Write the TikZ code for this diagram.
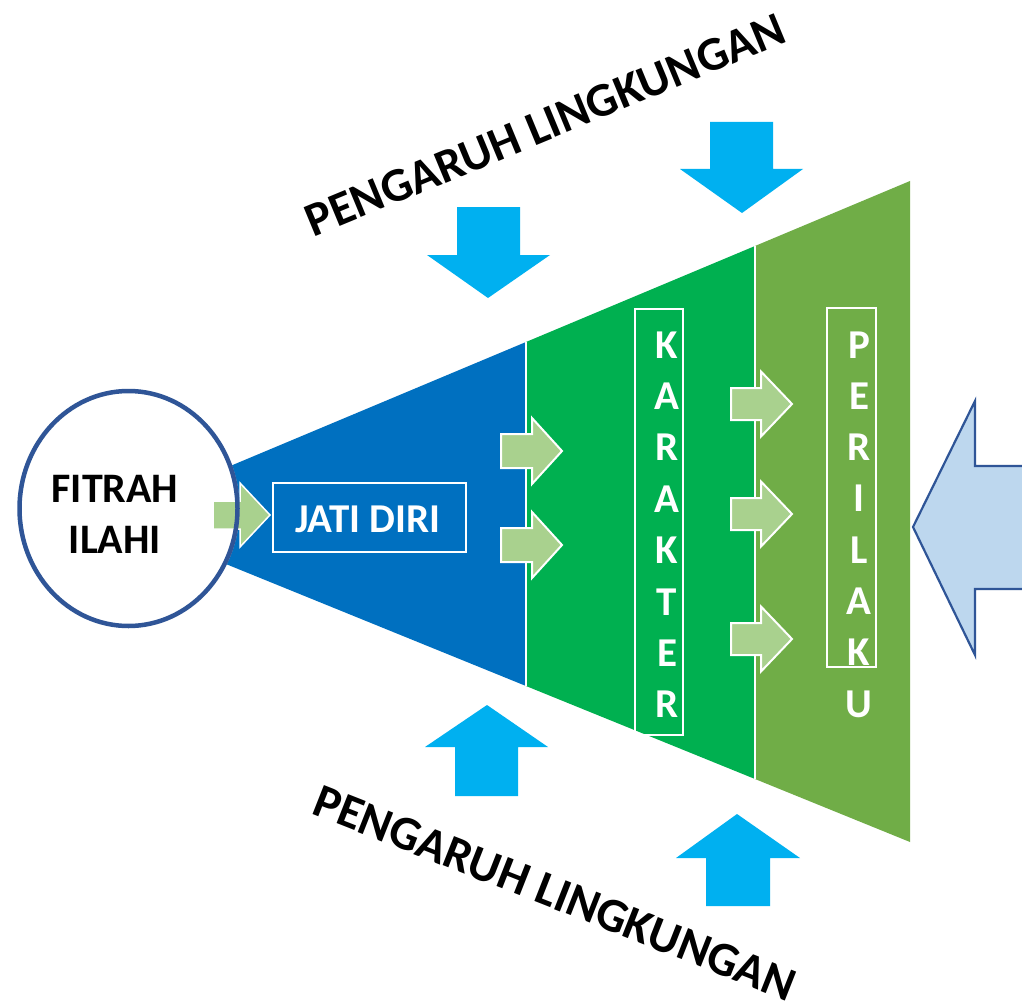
\documentclass[tikz,border=0pt]{standalone}
\usepackage{fontspec}
\setmainfont{Carlito}
\definecolor{fblue}{HTML}{0070C0}
\definecolor{fgreen}{HTML}{00B050}
\definecolor{flgreen}{HTML}{70AD47}
\definecolor{sgreen}{HTML}{A9D18E}
\definecolor{cyanar}{HTML}{00B0F0}
\definecolor{bigfill}{HTML}{BDD7EE}
\definecolor{darkblue}{HTML}{2F5597}
\begin{document}
\begin{tikzpicture}[x=1pt,y=-1pt,
  sarrow/.style={fill=sgreen, draw=white, line width=2pt, line join=miter},
  carrow/.style={fill=cyanar},
  lbl/.style={font=\fontsize{42}{51}\selectfont\bfseries, inner sep=0pt},
  lett/.style={text=white, font=\fontsize{41}{50}\selectfont\bfseries, anchor=base, inner sep=0pt},
  bigtxt/.style={font=\fontsize{48}{52}\selectfont\bfseries, inner sep=0pt},
  wbox/.style={draw=white, line width=1.6pt}]
\clip (0,0) rectangle (1022,1003);
\fill[white] (0,0) rectangle (1022,1003);
% funnel
\fill[fblue] (200,478.7) -- (526,342) -- (526,686) -- (200,553.5) -- cycle;
\fill[fgreen] (526,342) -- (755,246) -- (755,779) -- (526,686) -- cycle;
\fill[flgreen] (755,246) -- (910,181) -- (910,842) -- (755,779) -- cycle;
\draw[white, line width=2.5pt] (526,342) -- (526,686);
\draw[white, line width=2pt] (755,246) -- (755,779);
% circle
\fill[white] (128.5,508.5) ellipse [x radius=111, y radius=119.5];
\draw[sarrow, line width=1.5pt, shift={(270,515)}] (-57,-14) -- (-30,-14) -- (-30,-32) -- (0,0) -- (-30,32) -- (-30,14) -- (-57,14) -- cycle;
\draw[darkblue, line width=4.5pt] (128.5,508.5) ellipse [x radius=109, y radius=117.5];
\node[lbl, align=center] (fitrah) at (115,514) {FITRAH\\ILAHI};
% jati diri
\draw[wbox] (273,483) rectangle (466,552);
\node[lbl, text=white, font=\fontsize{41}{50}\selectfont\bfseries] (jati) at (368,519) {JATI DIRI};
% small arrows
\foreach \yy in {451,545}
  \draw[sarrow, shift={(562,\yy)}] (-61,-17) -- (-30,-17) -- (-30,-33) -- (0,0) -- (-30,33) -- (-30,17) -- (-61,17) -- cycle;
\foreach \yy in {404,514,639}
  \draw[sarrow, shift={(792,\yy)}] (-61,-16) -- (-31,-16) -- (-31,-32.5) -- (0,0) -- (-31,32.5) -- (-31,16) -- (-61,16) -- cycle;
% karakter
\draw[wbox] (635,309) rectangle (683,735);
\foreach \l [count=\i from 0] in {K,A,R,A,K,T,E,R}
  \node[lett] (kar\i) at (667,358+51.4*\i) {\l};
% perilaku
\draw[wbox] (827,308) rectangle (876,667);
\foreach \l [count=\i from 0] in {P,E,R,I,L,A,K,U}
  \node[lett] (per\i) at (859,358+51.3*\i) {\l};
% cyan arrows
\fill[carrow] (457,207) -- (520,207) -- (520,255) -- (550,255) -- (488,298) -- (427,255) -- (457,255) -- cycle;
\fill[carrow] (710,122) -- (773,122) -- (773,169) -- (803,169) -- (742,213) -- (680,169) -- (710,169) -- cycle;
\fill[carrow] (455,796) -- (518,796) -- (518,747) -- (548,747) -- (487,705) -- (425,747) -- (455,747) -- cycle;
\fill[carrow] (706,906) -- (770,906) -- (770,858) -- (800,858) -- (737,814) -- (676,858) -- (706,858) -- cycle;
% big arrow
\draw[fill=bigfill, draw=darkblue, line width=2.2pt, line join=miter] (1040,466) -- (975,466) -- (975,401) -- (913,527) -- (975,655) -- (975,589) -- (1040,589);
% texts
\node[bigtxt, rotate=22.5] (top) at (545,125) {PENGARUH LINGKUNGAN};
\node[bigtxt, rotate=-21.5] (bot) at (555,893) {PENGARUH LINGKUNGAN};
\end{tikzpicture}
\end{document}
